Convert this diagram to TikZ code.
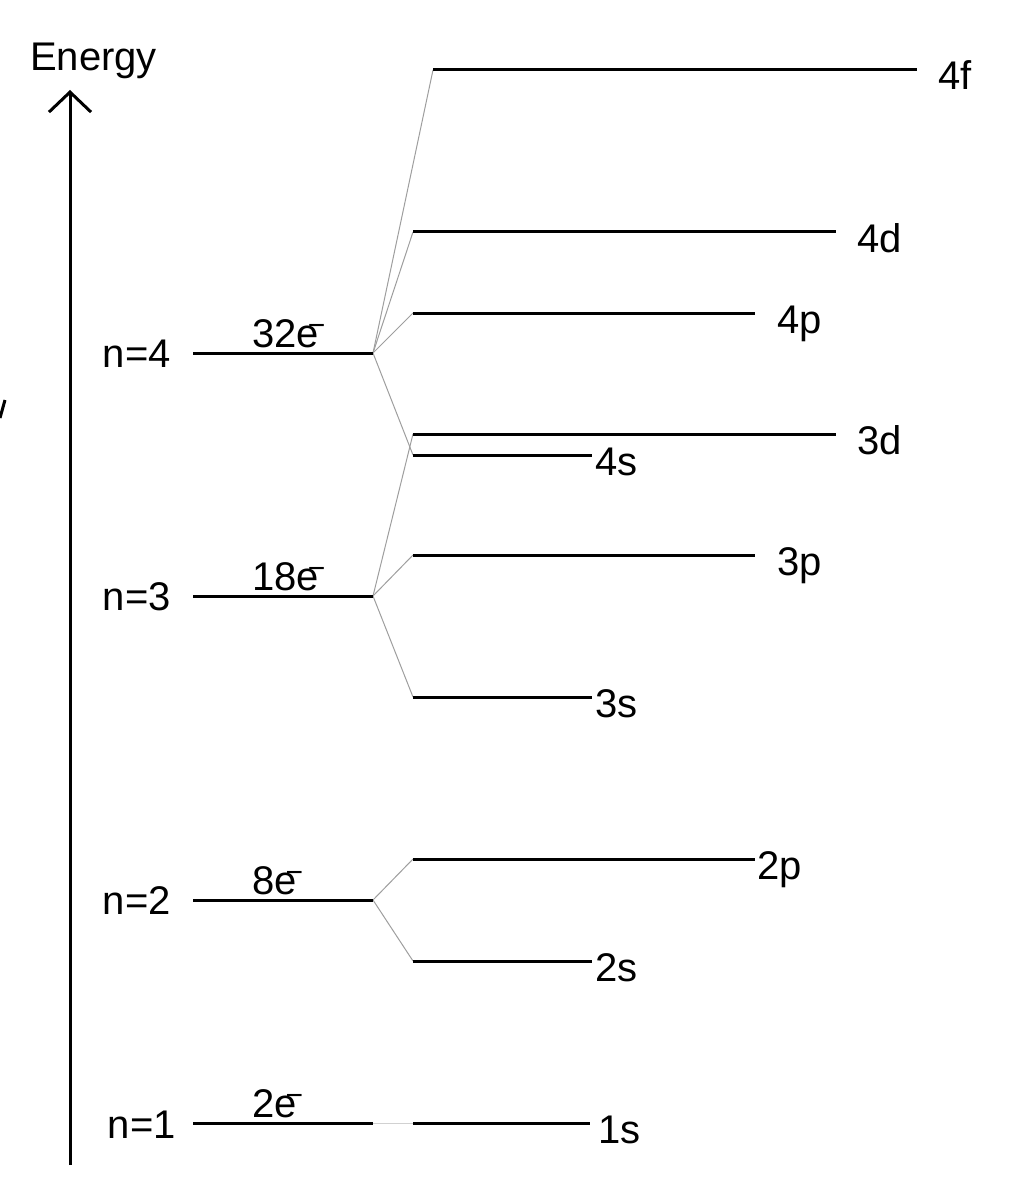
\documentclass[tikz,border=0pt]{standalone}
\usepackage{fontspec}
\setmainfont{Liberation Sans}
\usetikzlibrary{arrows.meta,calc}
\begin{document}
\begin{tikzpicture}[x=1pt,y=-1pt,
  levelline/.style={line width=3pt},
  splitline/.style={line width=1pt,draw=black!38},
  faintline/.style={line width=1pt,draw=black!18},
  axisline/.style={line width=3pt,-{Straight Barb[length=20pt,width=42pt]}},
  lab/.style={font=\fontsize{40}{48}\selectfont, inner sep=0pt, anchor=base west},
  nlab/.style={font=\fontsize{40}{48}\selectfont, inner sep=0pt, anchor=base east},
]
\useasboundingbox (0,0) rectangle (1030,1190);
\newcommand{\elminus}{\kern-11pt\raisebox{12pt}{\fontsize{30}{30}\selectfont −}}
% axis
\coordinate (axB) at (70,1165);
\coordinate (axT) at (70,90);
\draw[axisline] (axB) -- (axT);
\node[lab] (energy) at (30,71) {Energy};
% stray mark at the left edge
\coordinate (m1) at (0,418);
\coordinate (m2) at (5,400);
\draw[line width=3pt] (m1) -- (m2);
% shells
\foreach \nm/\yy in {n4/353,n3/596,n2/900,n1/1123}{
  \coordinate (\nm L) at (193,\yy);
  \coordinate (\nm R) at (373,\yy);
}
% subshells
\foreach \nm/\xl/\xr/\yy in {f4/433/917/70, d4/413/836/232, p4/413/755/313,
  d3/413/836/434, s4/413/592/455, p3/413/755/555, s3/413/592/697,
  p2/413/755/859, s2/413/592/961, s1/413/590/1123}{
  \coordinate (\nm L) at (\xl,\yy);
  \coordinate (\nm R) at (\xr,\yy);
}
% split connectors
\draw[splitline] (n4R) -- (f4L);
\draw[splitline] (n4R) -- (d4L);
\draw[splitline] (n4R) -- (p4L);
\draw[splitline] (n4R) -- (s4L);
\draw[splitline] (n3R) -- (d3L);
\draw[splitline] (n3R) -- (p3L);
\draw[splitline] (n3R) -- (s3L);
\draw[splitline] (n2R) -- (p2L);
\draw[splitline] (n2R) -- (s2L);
\draw[faintline] (n1R) -- (s1L);
% level lines
\foreach \nm in {n4,n3,n2,n1,f4,d4,p4,d3,s4,p3,s3,p2,s2,s1}{
  \draw[levelline] (\nm L) -- (\nm R);
}
% shell labels
\node[nlab] (ln4) at ($(n4L)+(-22,14)$) {n=4};
\node[nlab] (ln3) at ($(n3L)+(-22,14)$) {n=3};
\node[nlab] (ln2) at ($(n2L)+(-22,14)$) {n=2};
\node[nlab] (ln1) at ($(n1L)+(-17,15)$) {n=1};
% electron counts
\node[lab] (e4) at ($(n4L)+(59,-6)$) {32e\elminus};
\node[lab] (e3) at ($(n3L)+(59,-6)$) {18e\elminus};
\node[lab] (e2) at ($(n2L)+(59,-6)$) {8e\elminus};
\node[lab] (e1) at ($(n1L)+(59,-6)$) {2e\elminus};
% subshell labels
\node[lab] (lf4) at ($(f4R)+(21,20)$) {4f};
\node[lab] (ld4) at ($(d4R)+(21,20)$) {4d};
\node[lab] (lp4) at ($(p4R)+(22,20)$) {4p};
\node[lab] (ld3) at ($(d3R)+(21,20)$) {3d};
\node[lab] (ls4) at ($(s4R)+(3,20)$) {4s};
\node[lab] (lp3) at ($(p3R)+(22,20)$) {3p};
\node[lab] (ls3) at ($(s3R)+(3,20)$) {3s};
\node[lab] (lp2) at ($(p2R)+(2,20)$) {2p};
\node[lab] (ls2) at ($(s2R)+(3,20)$) {2s};
\node[lab] (ls1) at ($(s1R)+(8,20)$) {1s};
\end{tikzpicture}
\end{document}
